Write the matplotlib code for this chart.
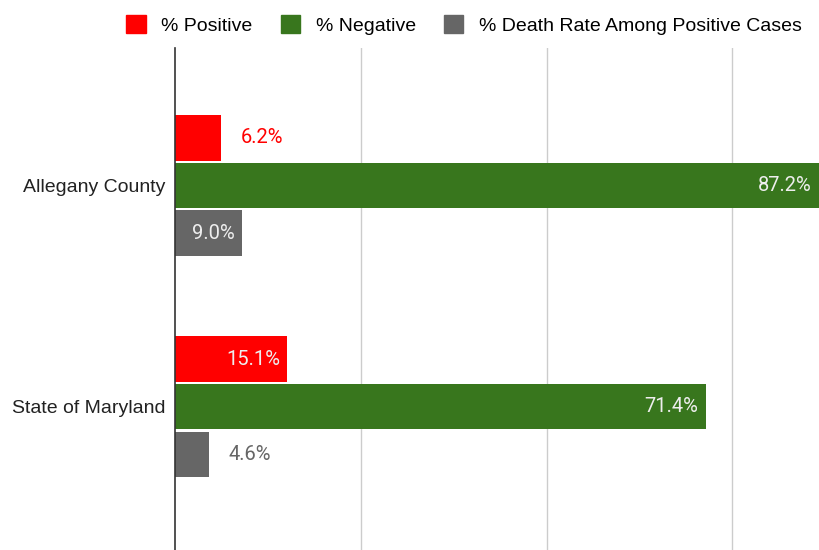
import numpy as np
import matplotlib.pyplot as plt
from matplotlib.patches import Patch

regions = ["Allegany County", "State of Maryland"]
series_names = ["% Positive", "% Negative", "% Death Rate Among Positive Cases"]
pct_positive = [6.2, 15.1]
pct_negative = [87.2, 71.4]
pct_death = [9.0, 4.6]

colors = ["#ff0000", "#38761d", "#666666"]


def main():
    fig = plt.figure(figsize=(8.19, 5.5), dpi=100)
    ax = fig.add_axes([175 / 819, 0, 1 - 175 / 819, 1 - 48 / 550])

    y = np.arange(len(regions))
    offsets = [-0.215, 0.0, 0.215]
    series = [pct_positive, pct_negative, pct_death]
    x_max = (819 - 175) / 7.43

    for vals, off, col in zip(series, offsets, colors):
        ax.barh(y + off, vals, height=0.204, color=col, zorder=3)
        for yi, v in zip(y, vals):
            label = f"{v:.1f}%"
            # labels go inside the bar when it is wide enough
            if v > 8:
                ax.text(min(v, x_max) - 0.95, yi + off, label, ha="right",
                    va="center", color="#eeeeee", fontsize=14.5,
                    family="Roboto", zorder=4)
            else:
                ax.text(v + 2.6, yi + off, label, ha="left", va="center",
                    color=col, fontsize=14.5, family="Roboto", zorder=4)

    ax.set_xlim(0, x_max)
    ax.set_ylim(1.649, -0.622)
    ax.set_xticks([25, 50, 75])
    ax.set_xticklabels([])
    ax.tick_params(axis="x", length=0)
    ax.grid(axis="x", color="#cccccc", linewidth=1, zorder=0)
    ax.set_yticks(y)
    ax.set_yticklabels(regions, fontsize=14, family="Liberation Sans",
        color="#222222")
    ax.tick_params(axis="y", length=0, pad=7)
    for side in ["top", "right", "bottom"]:
        ax.spines[side].set_visible(False)
    ax.spines["left"].set_color("#333333")
    ax.spines["left"].set_linewidth(1.2)
    ax.spines["left"].set_zorder(5)

    handles = [Patch(color=c) for c in colors]
    fig.legend(handles, series_names, loc="center", ncol=3, frameon=False,
        bbox_to_anchor=(464 / 819, 1 - 25 / 550), handlelength=1.0,
        handleheight=1.0, columnspacing=1.45, handletextpad=0.8,
        prop={"family": "Liberation Sans", "size": 14})

    fig.savefig("out.png", dpi=100)


if __name__ == "__main__":
    main()
